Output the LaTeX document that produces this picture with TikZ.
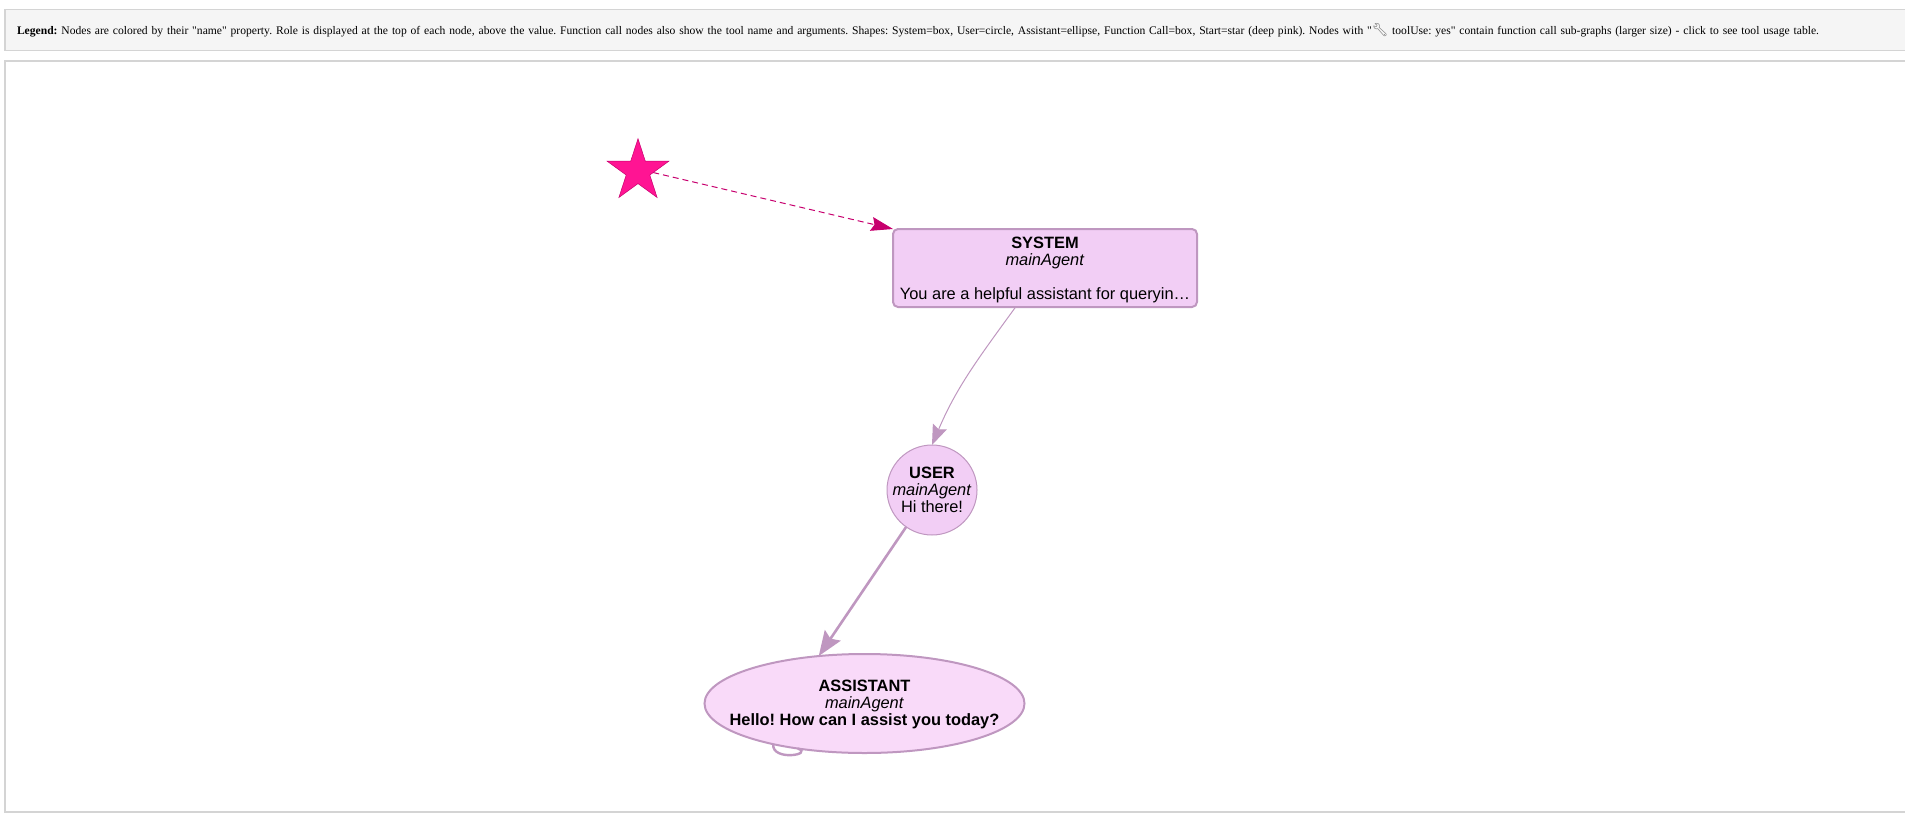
\documentclass[tikz,border=0pt]{standalone}
\usepackage{fontspec}
\setmainfont{Liberation Serif}
\setsansfont{Liberation Sans}
\newfontfamily\legendfont{Liberation Serif}
\newfontfamily\emojifont{Noto Emoji}
\usetikzlibrary{positioning,shapes.geometric,arrows.meta}
\definecolor{edgepurple}{HTML}{BF97C0}
\definecolor{systemfill}{HTML}{F2CEF5}
\definecolor{assistantfill}{HTML}{F9DAF9}
\definecolor{startedge}{HTML}{C7006E}
\definecolor{startfill}{HTML}{FF1493}
\newcommand{\nowidth}[1]{\makebox[0pt]{#1}}

\begin{document}
\frenchspacing
\begin{tikzpicture}[node distance=100pt]
    \tikzstyle{framebox} = [rectangle, anchor=north west, draw=black!17, line width=1.2pt, outer sep=0pt]
    \tikzstyle{legendbox} = [framebox, fill=black!4, minimum height=41pt, text width=1885pt, inner xsep=12pt, inner ysep=0pt, align=left, font=\legendfont\fontsize{11.6}{15}\selectfont]
    \tikzstyle{textnode} = [align=center, inner sep=0pt, outer sep=0pt, text=black, font=\sffamily\fontsize{16.4}{17}\selectfont]
    \tikzstyle{startstar} = [star, star points=5, star point ratio=2.618, minimum size=65pt, inner sep=0pt, outer sep=0pt, fill=startfill, draw=startedge, line width=0.5pt]
    \tikzstyle{systembox} = [textnode, rectangle, rounded corners=5pt, minimum width=304pt, minimum height=78pt, draw=edgepurple, fill=systemfill, line width=2pt]
    \tikzstyle{usercircle} = [textnode, circle, minimum size=90pt, draw=edgepurple, fill=systemfill, line width=1pt]
    \tikzstyle{assistantellipse} = [textnode, ellipse, minimum width=320pt, minimum height=99pt, draw=edgepurple, fill=assistantfill, line width=2pt]

    \tikzstyle{arrowthin} = [draw=edgepurple, line width=1pt, -{Stealth[length=20pt,width=15pt,inset=3pt]}]
    \tikzstyle{arrowthick} = [draw=edgepurple, line width=2.6pt, -{Stealth[length=25pt,width=19pt,inset=4pt]}]
    \tikzstyle{arrowstart} = [draw=startedge, line width=1pt, dash pattern=on 6pt off 4pt, -{Stealth[length=22pt,width=14pt,inset=3pt,sep=0pt]}]
    \tikzstyle{selfloop} = [draw=edgepurple, line width=2.4pt]

    \useasboundingbox (0,0) rectangle (1905pt,-816pt);

    \node (chartbox) [framebox, minimum width=1910pt, minimum height=751pt] at (5pt,-61pt) {};
    \node (legendbox) [legendbox] at (5pt,-9.5pt) {\textbf{Legend:} Nodes are colored by their "name" property. Role is displayed at the top of each node, above the value. Function call nodes also show the tool name and arguments. Shapes: System=box, User=circle, Assistant=ellipse, Function Call=box, Start=star (deep pink). Nodes with "{\emojifont\fontsize{13}{13}\selectfont\textcolor{black!60}{\symbol{"1F527}}} toolUse: yes" contain function call sub-graphs (larger size) - click to see tool usage table.};

    \node (startnode) [startstar] at (638pt,-171.2pt) {};
    \node (systemnode) [systembox] at (1045pt,-268pt) {\rule{0pt}{16pt}\textbf{SYSTEM}\\\textit{mainAgent}\\[17pt]You are a helpful assistant for queryin\ldots};
    \node (usernode) [usercircle, below=138pt of systemnode, xshift=-113pt] {\nowidth{\textbf{USER}}\\\nowidth{\textit{mainAgent}}\\\nowidth{Hi there!}};
    \node (assistantnode) [assistantellipse, below=119pt of usernode, xshift=-67.5pt] {\rule{0pt}{14pt}\nowidth{\textbf{ASSISTANT}}\\\nowidth{\textit{mainAgent}}\\\nowidth{\textbf{Hello! How can I assist you today?}}};

    \draw [selfloop] (assistantnode.-156) to [out=-95, in=-20, looseness=1.8] (assistantnode.-146);
    \draw [arrowstart] (startnode.-5) -- (systemnode.north west);
    \draw [arrowthin] (systemnode.-127.6) to [out=-126, in=67] (usernode.north);
    \draw [arrowthick] (usernode.-125.8) -- (assistantnode.134.2);
\end{tikzpicture}
\end{document}
